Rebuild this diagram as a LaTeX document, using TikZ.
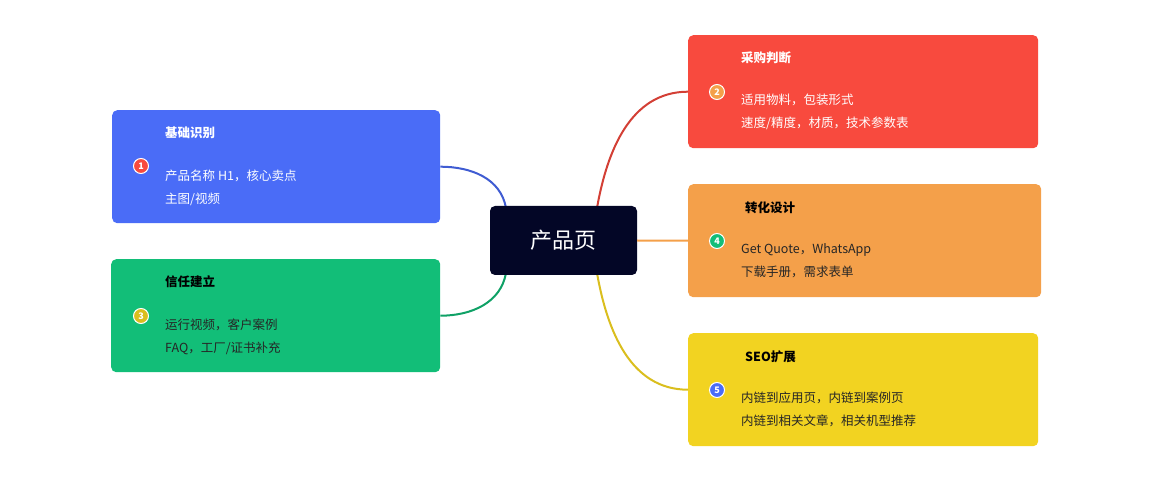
\documentclass[tikz,border=0pt]{standalone}
\usepackage{fontspec}
\setmainfont{Noto Sans CJK SC}
\newfontfamily\boldcjk{Noto Sans CJK SC Bold}
\begin{document}
\begin{tikzpicture}[x=1pt,y=-1pt,
  card/.style={rounded corners=5pt,minimum width=#1,minimum height=113pt,inner sep=0pt,anchor=north west},
  ttl/.style={anchor=west,font=\bfseries\fontsize{12.5}{15}\selectfont,inner sep=0pt},
  body/.style={anchor=north west,font=\fontsize{12.5}{23}\selectfont,align=left,inner sep=0pt},
  badge/.style={circle,minimum size=15pt,inner sep=0pt,draw=white,line width=1pt,text=white,font=\bfseries\fontsize{9}{9}\selectfont},
  conn/.style={line width=2pt}]
\useasboundingbox (0,0) rectangle (1156,486);
\definecolor{cb}{HTML}{4A6CF7}\definecolor{cg}{HTML}{12BE78}
\definecolor{cr}{HTML}{F84A3E}\definecolor{co}{HTML}{F4A04A}
\definecolor{cy}{HTML}{F2D321}\definecolor{cc}{HTML}{030626}
% connectors first
\coordinate (pb) at (506,208);
\coordinate (pg) at (506,273);
\coordinate (pr) at (597,208);
\coordinate (py) at (597,273);
\node[card=328pt,fill=cb] (b1) at (112,110) {};
\node[card=329pt,fill=cg] (b3) at (111,259) {};
\node[card=350pt,fill=cr] (b2) at (688,35) {};
\node[card=353pt,fill=co] (b4) at (688,184) {};
\node[card=350pt,fill=cy] (b5) at (688,333) {};
\draw[conn,draw=cb!85!black] (b1.east) to[out=0,in=100] (pb);
\draw[conn,draw=cg!85!black] (b3.east) to[out=0,in=-100] (pg);
\draw[conn,draw=cr!85!black] (b2.west) to[out=180,in=80] (pr);
\draw[conn,draw=cy!90!black] (b5.west) to[out=180,in=-80] (py);
\node[fill=cc,rounded corners=5pt,minimum width=147pt,minimum height=69pt,text=white,font=\fontsize{22}{26}\selectfont] (c) at (563.5,240.5) {产品页};
\draw[conn,draw=co] (c.east) -- (b4.west);
% texts
\node[ttl,text=white] (t1) at (165,133) {基础识别};
\node[body,text=white] (l1) at (165,170) {产品名称 H1，核心卖点\\主图/视频};
\node[badge,fill=cr] (n1) at (141,166) {1};
\node[ttl,text=black] (t3) at (165,282) {信任建立};
\node[body,text=black!85] (l3) at (165,319) {运行视频，客户案例\\ FAQ，工厂/证书补充};
\node[badge,fill=cy!90!black] (n3) at (141,316) {3};
\node[ttl,text=white] (t2) at (741,58) {采购判断};
\node[body,text=white] (l2) at (741,94) {适用物料，包装形式\\速度/精度，材质，技术参数表};
\node[badge,fill=co] (n2) at (717,92) {2};
\node[ttl,text=black] (t4) at (745,208) {转化设计};
\node[body,text=black!85] (l4) at (741,243) { Get Quote，WhatsApp\\下载手册，需求表单};
\node[badge,fill=cg] (n4) at (717,241) {4};
\node[ttl,text=black] (t5) at (745,357) {SEO扩展};
\node[body,text=black!85] (l5) at (741,392) {内链到应用页，内链到案例页\\内链到相关文章，相关机型推荐};
\node[badge,fill=cb] (n5) at (717,390) {5};
\end{tikzpicture}
\end{document}
